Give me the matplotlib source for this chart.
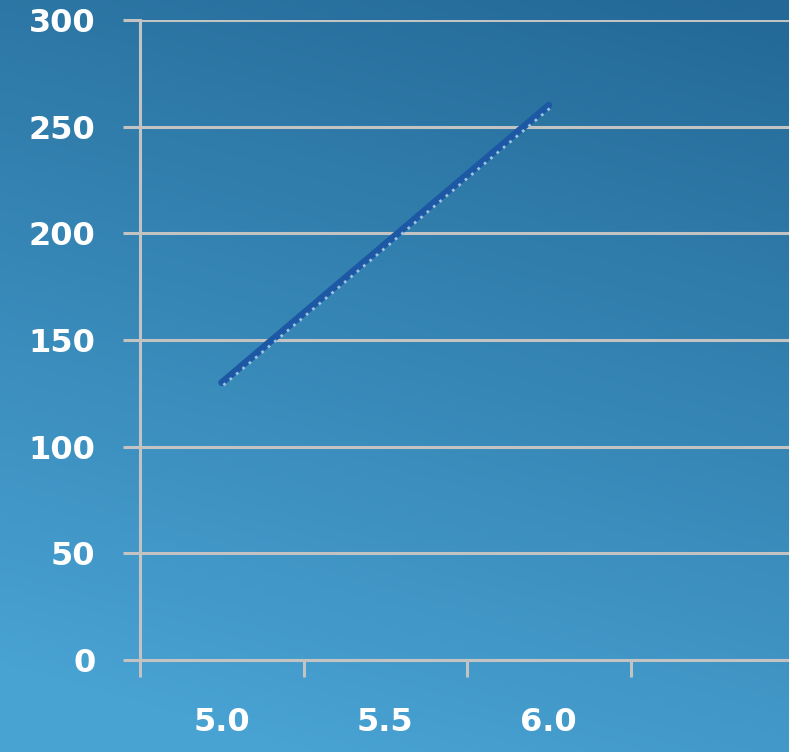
import numpy as np
import matplotlib
matplotlib.use("Agg")
import matplotlib.pyplot as plt
import matplotlib.transforms as mtransforms

# Data
categories = ["5.0", "5.5", "6.0", ""]
values = [130, 195, 260]
y_ticks = [0, 50, 100, 150, 200, 250, 300]

fig = plt.figure(figsize=(7.89, 7.52), dpi=100)

# Background gradient (darker top-right, lighter bottom-left)
bg = fig.add_axes([0, 0, 1, 1], zorder=-10)
bg.set_axis_off()
h, w = 200, 200
yy, xx = np.mgrid[0:1:h * 1j, 0:1:w * 1j]
t = np.clip(0.85 * yy + 0.25 * (1 - xx), 0, 1)  # yy=0 top
top = np.array([0x23, 0x68, 0x96]) / 255
bottom = np.array([0x48, 0xa2, 0xd2]) / 255
t = t / t.max()
img = top[None, None, :] * (1 - t[..., None]) + bottom[None, None, :] * t[..., None]
bg.imshow(img, aspect="auto", extent=[0, 1, 0, 1], origin="upper")

ax = fig.add_axes([140 / 789, 92 / 752, 654 / 789, 640 / 752])
ax.patch.set_alpha(0)

x = np.arange(1, len(values) + 1)
ax.plot(x, values, color="#1c58a4", lw=5.0, solid_capstyle="round", zorder=3)
offset = mtransforms.offset_copy(ax.transData, fig=fig, x=1.2, y=-1.8, units="points")
ax.plot(x, values, color="#9cc2e0", lw=2.0, ls=(0, (1.0, 2.0)),
        transform=offset, zorder=4)

ax.set_xlim(0.5, 4.5)
ax.set_ylim(0, 300)
ax.set_yticks(y_ticks)
ax.set_yticklabels([str(v) for v in y_ticks])
ax.set_xticks(np.arange(1, len(categories) + 1))
ax.set_xticklabels(categories)
ax.set_xticks(np.arange(0.5, 4.6, 1.0), minor=True)

grid_color = "#c3c3c3"
ax.grid(axis="y", color=grid_color, lw=2.2, zorder=1)
for s in ["top", "right"]:
    ax.spines[s].set_visible(False)
ax.spines["left"].set_color(grid_color)
ax.spines["left"].set_linewidth(2.2)
ax.spines["bottom"].set_color(grid_color)
ax.spines["bottom"].set_linewidth(2.2)

ax.tick_params(axis="y", length=12, width=2.2, color=grid_color, pad=20,
               labelsize=23, labelcolor="white")
ax.tick_params(axis="x", which="major", length=0, pad=34,
               labelsize=23, labelcolor="white")
ax.tick_params(axis="x", which="minor", length=12, width=2.2, color=grid_color)
for lab in ax.get_yticklabels() + ax.get_xticklabels():
    lab.set_fontweight("bold")
    lab.set_fontfamily("DejaVu Sans")

fig.savefig("out.png", dpi=100)
